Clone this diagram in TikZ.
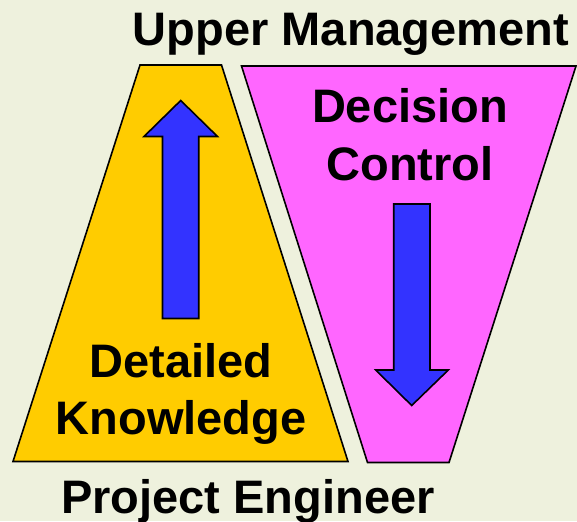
\documentclass[tikz,border=0pt]{standalone}
\usepackage{fontspec}
\setmainfont{Liberation Sans}
\begin{document}
\begin{tikzpicture}[x=1pt,y=-1pt,
  panel/.style={draw=black,line width=1.6pt,line join=miter},
  bigarrow/.style={draw=black,line width=1.6pt,fill=arrowblue,line join=miter},
  label/.style={font=\fontsize{47}{57}\selectfont\bfseries,anchor=base,inner sep=0pt}]
  \definecolor{bgcol}{HTML}{EEF1DD}
  \definecolor{knowcol}{HTML}{FFCC00}
  \definecolor{ctrlcol}{HTML}{FF66FF}
  \definecolor{arrowblue}{HTML}{3333FF}
  % page background
  \fill[bgcol] (0,0) rectangle (577,521);
  \useasboundingbox (0,0) rectangle (577,521);
  % knowledge trapezoid (wide at the bottom)
  \filldraw[panel,fill=knowcol] (140,65) -- (221.5,65) -- (348,461.5) -- (13,461.5) -- cycle;
  % decision trapezoid (wide at the top)
  \filldraw[panel,fill=ctrlcol] (241.5,66) -- (576,66) -- (449,462.5) -- (367.5,462.5) -- cycle;
  % upward arrow
  \filldraw[bigarrow] (162.5,318.5) -- (162.5,136.5) -- (144,136.5) -- (180.7,100.5)
     -- (217.5,136.5) -- (198.7,136.5) -- (198.7,318.5) -- cycle;
  % downward arrow
  \filldraw[bigarrow] (393.7,204) -- (430,204) -- (430,370) -- (448.3,370) -- (411.7,405.5)
     -- (375.7,370) -- (393.7,370) -- cycle;
  % labels
  \node[label] (upper) at (351,46) {Upper Management};
  \node[label] (dec1) at (410,123) {Decision};
  \node[label] (dec2) at (410,180.5) {Control};
  \node[label] (det1) at (181,377) {Detailed};
  \node[label] (det2) at (181,434) {Knowledge};
  \node[label] (proj) at (248,513) {Project Engineer};
\end{tikzpicture}
\end{document}
